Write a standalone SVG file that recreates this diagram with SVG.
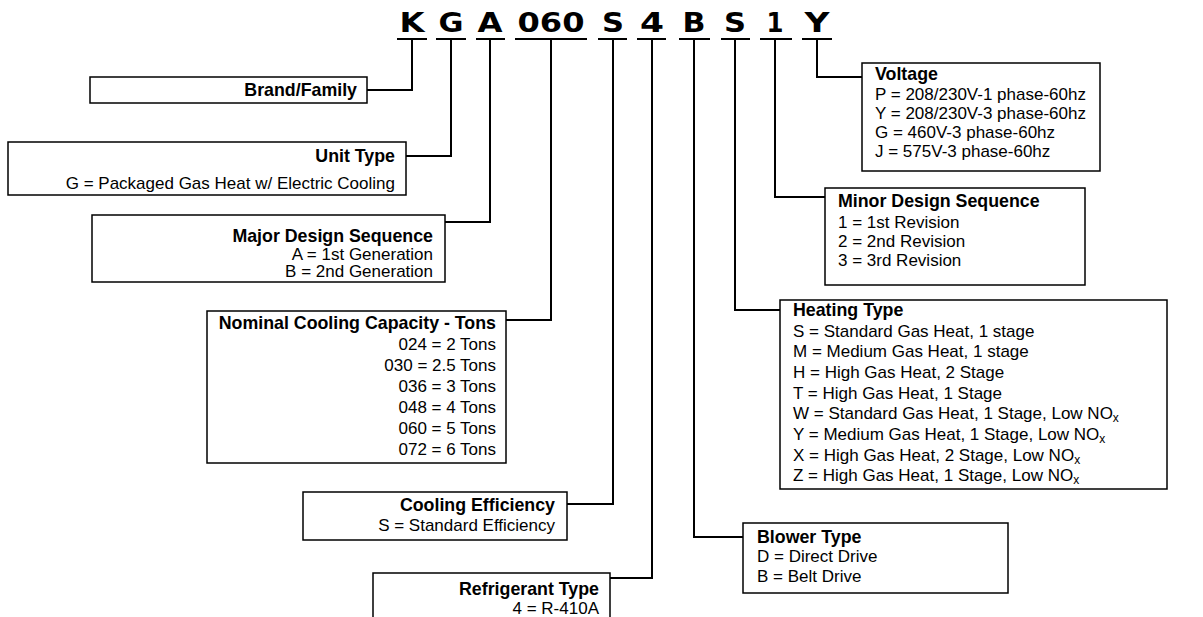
<svg xmlns="http://www.w3.org/2000/svg" width="1203" height="617" viewBox="0 0 1203 617">
<style>
.t{font-family:"Liberation Sans",Arial,sans-serif;font-size:17px;fill:#000}
.b{font-weight:bold;font-size:17.8px}
.e{text-anchor:end}
.box{fill:#fff;stroke:#000;stroke-width:1.5}
.conn{fill:none;stroke:#000;stroke-width:2}
.code{font-family:"DejaVu Sans",sans-serif;font-weight:bold;font-size:26px;text-anchor:middle;fill:#000}
.sub{font-size:12px}
</style>
<rect width="1203" height="617" fill="#fff"/>
<g id="code">
<text class="code" x="412" y="32" textLength="25" lengthAdjust="spacingAndGlyphs">K</text>
<text class="code" x="451" y="32" textLength="25" lengthAdjust="spacingAndGlyphs">G</text>
<text class="code" x="490" y="32" textLength="25" lengthAdjust="spacingAndGlyphs">A</text>
<text class="code" x="551" y="32" textLength="67" lengthAdjust="spacingAndGlyphs">060</text>
<text class="code" x="613" y="32" textLength="22" lengthAdjust="spacingAndGlyphs">S</text>
<text class="code" x="652" y="32" textLength="24" lengthAdjust="spacingAndGlyphs">4</text>
<text class="code" x="694" y="32" textLength="23" lengthAdjust="spacingAndGlyphs">B</text>
<text class="code" x="735" y="32" textLength="22" lengthAdjust="spacingAndGlyphs">S</text>
<text class="code" x="775" y="32" textLength="17" lengthAdjust="spacingAndGlyphs">1</text>
<text class="code" x="817" y="32" textLength="25" lengthAdjust="spacingAndGlyphs">Y</text>
</g>
<g id="connectors" class="conn">
<path d="M397 39H427M436 39H466M476 39H505M515 39H587M598 39H627M637 39H666M679 39H710M721 39H750M760 39H792M802 39H832"/>
<path d="M412 39V90H367"/>
<path d="M451 39V156H406"/>
<path d="M490 39V222H445"/>
<path d="M551 39V320H506"/>
<path d="M613 39V504H567"/>
<path d="M652 39V578H610"/>
<path d="M694 39V537H743"/>
<path d="M735 39V310H780"/>
<path d="M775 39V197H825"/>
<path d="M817 39V77H862"/>
</g>
<g id="brand">
<rect class="box" x="90" y="77" width="277" height="26"/>
<text class="t b e" x="357" y="96">Brand/Family</text>
</g>
<g id="unit-type">
<rect class="box" x="8" y="142" width="398" height="53"/>
<text class="t b e" x="395" y="162">Unit Type</text>
<text class="t e" x="395" y="189">G = Packaged Gas Heat w/ Electric Cooling</text>
</g>
<g id="major-design">
<rect class="box" x="92" y="215" width="353" height="67"/>
<text class="t b e" x="433" y="242">Major Design Sequence</text>
<text class="t e" x="433" y="260">A = 1st Generation</text>
<text class="t e" x="433" y="277">B = 2nd Generation</text>
</g>
<g id="nominal-cooling">
<rect class="box" x="207" y="311" width="299" height="152"/>
<text class="t b e" x="496" y="329">Nominal Cooling Capacity - Tons</text>
<text class="t e" x="496" y="350">024 = 2 Tons</text>
<text class="t e" x="496" y="371">030 = 2.5 Tons</text>
<text class="t e" x="496" y="392">036 = 3 Tons</text>
<text class="t e" x="496" y="413">048 = 4 Tons</text>
<text class="t e" x="496" y="434">060 = 5 Tons</text>
<text class="t e" x="496" y="455">072 = 6 Tons</text>
</g>
<g id="cooling-efficiency">
<rect class="box" x="303" y="492" width="264" height="48"/>
<text class="t b e" x="555" y="511">Cooling Efficiency</text>
<text class="t e" x="555" y="531">S = Standard Efficiency</text>
</g>
<g id="refrigerant">
<rect class="box" x="373" y="573" width="237" height="60"/>
<text class="t b e" x="599" y="595">Refrigerant Type</text>
<text class="t e" x="599" y="614">4 = R-410A</text>
</g>
<g id="voltage">
<rect class="box" x="862" y="63" width="238" height="108"/>
<text class="t b" x="875" y="80">Voltage</text>
<text class="t" x="875" y="100">P = 208/230V-1 phase-60hz</text>
<text class="t" x="875" y="119">Y = 208/230V-3 phase-60hz</text>
<text class="t" x="875" y="138">G = 460V-3 phase-60hz</text>
<text class="t" x="875" y="157">J = 575V-3 phase-60hz</text>
</g>
<g id="minor-design">
<rect class="box" x="825" y="188" width="260" height="97"/>
<text class="t b" x="838" y="207">Minor Design Sequence</text>
<text class="t" x="838" y="228">1 = 1st Revision</text>
<text class="t" x="838" y="247">2 = 2nd Revision</text>
<text class="t" x="838" y="266">3 = 3rd Revision</text>
</g>
<g id="heating">
<rect class="box" x="780" y="300" width="387" height="189"/>
<text class="t b" x="793" y="316">Heating Type</text>
<text class="t" x="793" y="337">S = Standard Gas Heat, 1 stage</text>
<text class="t" x="793" y="357">M = Medium Gas Heat, 1 stage</text>
<text class="t" x="793" y="378">H = High Gas Heat, 2 Stage</text>
<text class="t" x="793" y="399">T = High Gas Heat, 1 Stage</text>
<text class="t" x="793" y="419">W = Standard Gas Heat, 1 Stage, Low NO<tspan class="sub" dy="3">x</tspan></text>
<text class="t" x="793" y="440">Y = Medium Gas Heat, 1 Stage, Low NO<tspan class="sub" dy="3">x</tspan></text>
<text class="t" x="793" y="461">X = High Gas Heat, 2 Stage, Low NO<tspan class="sub" dy="3">x</tspan></text>
<text class="t" x="793" y="481">Z = High Gas Heat, 1 Stage, Low NO<tspan class="sub" dy="3">x</tspan></text>
</g>
<g id="blower">
<rect class="box" x="743" y="523" width="265" height="70"/>
<text class="t b" x="757" y="543">Blower Type</text>
<text class="t" x="757" y="562">D = Direct Drive</text>
<text class="t" x="757" y="582">B = Belt Drive</text>
</g>
</svg>
